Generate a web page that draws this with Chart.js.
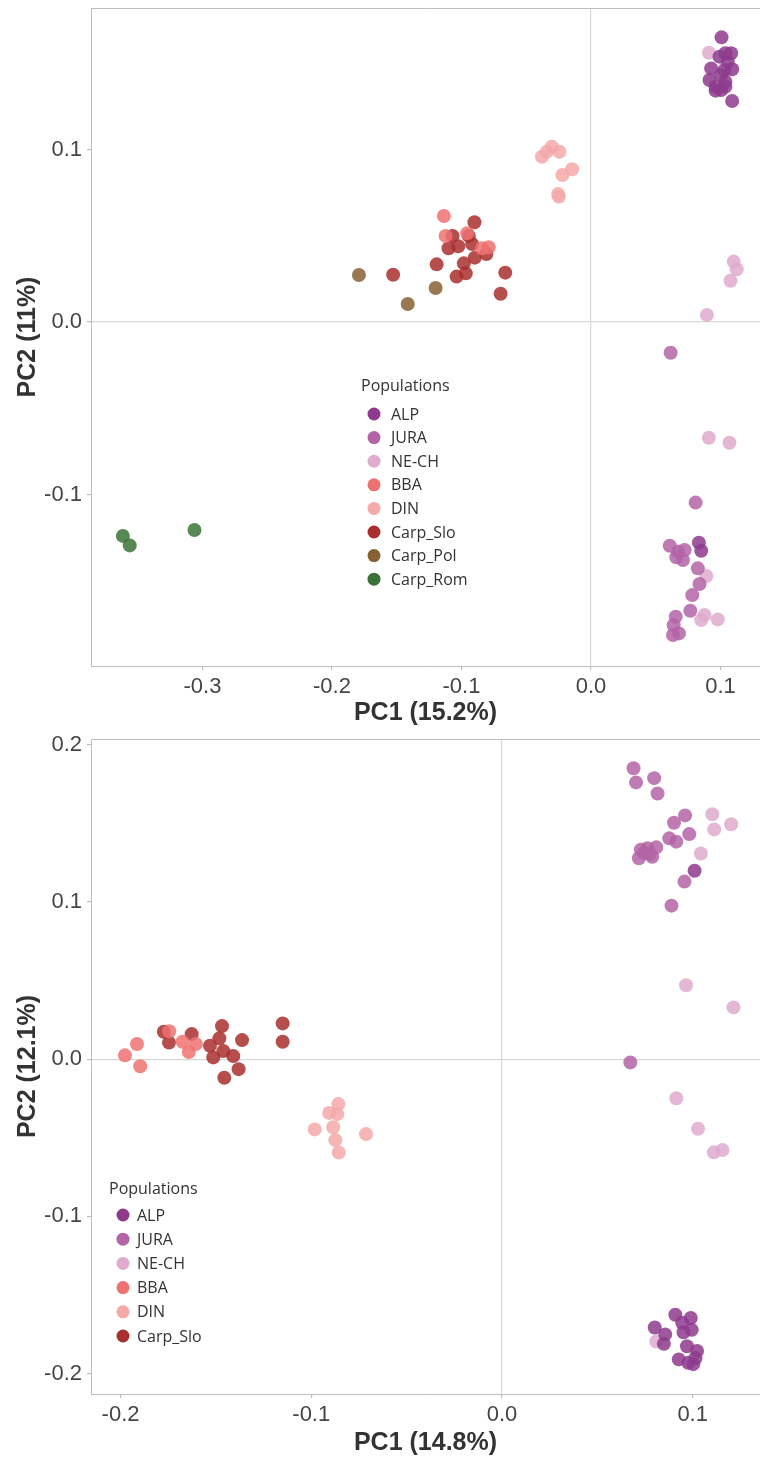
<!DOCTYPE html>
<html>
<head>
<meta charset="utf-8">
<title>PCA of populations</title>
<script src="https://cdn.jsdelivr.net/npm/chart.js@4.4.1/dist/chart.umd.min.js"></script>
<style>
  html, body { margin: 0; padding: 0; background: #ffffff; }
  .panel { position: relative; width: 760px; }
  canvas { display: block; }
</style>
</head>
<body>
<div class="panel" style="height:728px"><canvas id="pcaTop" width="760" height="728"></canvas></div>
<div class="panel" style="height:732px"><canvas id="pcaBottom" width="760" height="732"></canvas></div>
<script>
// Populations and their colours
const populations = ['ALP', 'JURA', 'NE-CH', 'BBA', 'DIN', 'Carp_Slo', 'Carp_Pol', 'Carp_Rom'];
const popColors = ['#8e3b8d', '#b464a6', '#dfacce', '#ee7272', '#f5a9a9', '#a92f2f', '#876034', '#3a7337'];

// Axis ticks
const topXTicks = [-0.3, -0.2, -0.1, 0.0, 0.1];
const topYTicks = [-0.1, 0.0, 0.1];
const bottomXTicks = [-0.2, -0.1, 0.0, 0.1];
const bottomYTicks = [-0.2, -0.1, 0.0, 0.1, 0.2];

// Upper panel: PC1 (15.2%) vs PC2 (11%), [PC1, PC2] per individual
const topALP = [[0.1008,0.165],[0.1038,0.1558],[0.1082,0.1558],[0.0992,0.1538],[0.1056,0.1509],[0.0928,0.147],[0.1031,0.1461],[0.109,0.1465],[0.1005,0.1432],[0.0915,0.1403],[0.1038,0.1393],[0.0962,0.1364],[0.1038,0.1364],[0.0962,0.1341],[0.1005,0.1345],[0.109,0.1281],[0.0833,-0.1279],[0.0851,-0.1326]];
const topJURA = [[0.0615,-0.0178],[0.0808,-0.1047],[0.0608,-0.1297],[0.0672,-0.1331],[0.0723,-0.1322],[0.0659,-0.1364],[0.071,-0.138],[0.0825,-0.1428],[0.0838,-0.1519],[0.0782,-0.1583],[0.0767,-0.1674],[0.0654,-0.1708],[0.0638,-0.1757],[0.0633,-0.1814],[0.0679,-0.1805]];
const topNECH = [[0.091,0.1561],[0.1102,0.035],[0.1125,0.0306],[0.1077,0.0239],[0.0895,0.0041],[0.091,-0.0671],[0.1069,-0.07],[0.089,-0.1472],[0.0877,-0.1699],[0.0979,-0.1724],[0.0851,-0.1728]];
const topBBA = [[-0.1136,0.0614],[-0.1123,0.0499],[-0.0956,0.0514],[-0.079,0.0433],[-0.0841,0.0427]];
const topDIN = [[-0.0379,0.0958],[-0.0341,0.0987],[-0.0302,0.1016],[-0.0244,0.0987],[-0.0221,0.0852],[-0.0146,0.0885],[-0.0248,0.0726],[-0.0254,0.0742]];
const topCarpSlo = [[-0.1528,0.0274],[-0.1192,0.0334],[-0.09,0.0578],[-0.1069,0.0499],[-0.0944,0.0499],[-0.11,0.0427],[-0.1025,0.0439],[-0.0918,0.0452],[-0.0897,0.0373],[-0.0808,0.0394],[-0.0982,0.034],[-0.1038,0.0263],[-0.0967,0.0282],[-0.0662,0.0286],[-0.0698,0.0164]];
const topCarpPol = [[-0.1792,0.0272],[-0.12,0.0197],[-0.1415,0.0104]];
const topCarpRom = [[-0.3615,-0.124],[-0.3562,-0.1295],[-0.3062,-0.1206]];

// Lower panel: PC1 (14.8%) vs PC2 (12.1%)
const botALP = [[0.101,0.1198],[0.0909,-0.1626],[0.099,-0.1647],[0.0801,-0.1707],[0.0856,-0.1751],[0.0849,-0.1811],[0.0952,-0.1737],[0.0995,-0.1722],[0.0945,-0.1677],[0.097,-0.1826],[0.1023,-0.1856],[0.0927,-0.191],[0.0977,-0.1931],[0.1003,-0.194],[0.1015,-0.1901]];
const botJURA = [[0.069,0.185],[0.0703,0.176],[0.0798,0.1787],[0.0816,0.1689],[0.0902,0.1503],[0.096,0.155],[0.0982,0.1431],[0.0877,0.1404],[0.0914,0.1383],[0.0728,0.1332],[0.0763,0.1341],[0.0809,0.1347],[0.0718,0.1278],[0.0788,0.1287],[0.0745,0.131],[0.0775,0.1305],[0.0957,0.1129],[0.0889,0.0976],[0.0673,-0.0021]];
const botNECH = [[0.1103,0.1557],[0.1202,0.1494],[0.1113,0.1461],[0.1043,0.1308],[0.0965,0.047],[0.1214,0.0329],[0.0914,-0.0249],[0.1028,-0.0443],[0.1111,-0.0593],[0.1156,-0.0578],[0.0809,-0.1796]];
const botBBA = [[-0.1977,0.0024],[-0.1914,0.0096],[-0.1897,-0.0045],[-0.1745,0.0177],[-0.1675,0.011],[-0.1605,0.0096],[-0.1642,0.0045]];
const botDIN = [[-0.0858,-0.0286],[-0.0906,-0.0342],[-0.0864,-0.035],[-0.0885,-0.0433],[-0.0982,-0.0447],[-0.0874,-0.0515],[-0.0856,-0.0594],[-0.0713,-0.0477]];
const botCarpSlo = [[-0.1773,0.0174],[-0.1746,0.0105],[-0.1627,0.0159],[-0.1468,0.021],[-0.1482,0.0132],[-0.1531,0.0085],[-0.1514,0.0011],[-0.1461,0.0051],[-0.1409,0.0019],[-0.1381,-0.0064],[-0.1456,-0.0119],[-0.1363,0.0121],[-0.115,0.0227],[-0.115,0.011]];

const topGroups = [topALP, topJURA, topNECH, topBBA, topDIN, topCarpSlo, topCarpPol, topCarpRom];
const bottomGroups = [botALP, botJURA, botNECH, botBBA, botDIN, botCarpSlo];

function withAlpha(hex, a) {
  const n = parseInt(hex.slice(1), 16);
  return `rgba(${(n >> 16) & 255},${(n >> 8) & 255},${n & 255},${a})`;
}

function buildDatasets(groups) {
  return groups.map((pts, i) => ({
    label: populations[i],
    legendColor: popColors[i],
    data: pts.map(p => ({ x: p[0], y: p[1] })),
    backgroundColor: withAlpha(popColors[i], 0.85),
    borderWidth: 0,
    pointRadius: 7,
    pointHoverRadius: 7,
    pointStyle: 'circle'
  }));
}

// Top frame line of the panel (axes supply the left and bottom lines)
const frameTop = {
  id: 'frameTop',
  afterDraw(chart) {
    const a = chart.chartArea, ctx = chart.ctx;
    ctx.save();
    ctx.strokeStyle = '#c2bcbc';
    ctx.lineWidth = 1;
    ctx.beginPath();
    ctx.moveTo(a.left, a.top + 0.5);
    ctx.lineTo(a.right, a.top + 0.5);
    ctx.stroke();
    ctx.restore();
  }
};

// In-panel legend listing the populations of the panel
const popLegend = {
  id: 'popLegend',
  afterDraw(chart, args, o) {
    const ctx = chart.ctx;
    ctx.save();
    ctx.textBaseline = 'middle';
    ctx.textAlign = 'left';
    ctx.fillStyle = '#333333';
    ctx.font = '16px "Open Sans"';
    ctx.fillText(o.title, o.x, o.titleY);
    chart.data.datasets.forEach((ds, i) => {
      const y = o.rowY + i * o.step;
      ctx.beginPath();
      ctx.arc(o.dotX, y, 6.5, 0, Math.PI * 2);
      ctx.fillStyle = ds.legendColor;
      ctx.fill();
      ctx.fillStyle = '#333333';
      ctx.font = '16px "Open Sans"';
      ctx.fillText(ds.label, o.textX, y + 1);
    });
    ctx.restore();
  }
};

function zeroGrid(ctx) {
  return ctx.tick && Math.abs(ctx.tick.value) < 1e-9 ? '#dcd6d6' : 'rgba(0,0,0,0)';
}

function makeChart(id, cfg) {
  const tickFont = { family: '"Liberation Sans", Arial, sans-serif', size: 22 };
  const titleFont = { family: '"Liberation Sans", Arial, sans-serif', size: 25, weight: 'bold' };
  return new Chart(document.getElementById(id), {
    type: 'scatter',
    data: { datasets: buildDatasets(cfg.groups) },
    options: {
      responsive: false,
      animation: false,
      events: [],
      layout: { autoPadding: false, padding: { top: cfg.padTop, left: 0, right: 0, bottom: 0 } },
      plugins: {
        legend: { display: false },
        tooltip: { enabled: false },
        popLegend: cfg.legend
      },
      scales: {
        x: {
          type: 'linear',
          min: cfg.xMin, max: cfg.xMax,
          afterBuildTicks: s => { s.ticks = cfg.xTicks.map(v => ({ value: v })); },
          afterFit: s => { s.height = cfg.xAxisHeight; s.paddingLeft = 0; s.paddingRight = 0; },
          ticks: { callback: v => Number(v).toFixed(1), font: tickFont, color: '#454545', padding: 4, maxRotation: 0, autoSkip: false },
          grid: { color: zeroGrid, lineWidth: 1.2, tickColor: '#c2bcbc', tickLength: 4 },
          border: { display: true, color: '#c2bcbc', width: 1 },
          title: { display: true, text: cfg.xTitle, font: titleFont, color: '#333333', padding: { top: 0, bottom: cfg.xTitlePad } }
        },
        y: {
          type: 'linear',
          min: cfg.yMin, max: cfg.yMax,
          afterBuildTicks: s => { s.ticks = cfg.yTicks.map(v => ({ value: v })); },
          afterFit: s => { s.width = 91; s.paddingTop = 0; s.paddingBottom = 0; },
          ticks: { callback: v => Number(v).toFixed(1), font: tickFont, color: '#454545', padding: 5, autoSkip: false },
          grid: { color: zeroGrid, lineWidth: 1.2, tickColor: '#c2bcbc', tickLength: 4 },
          border: { display: true, color: '#c2bcbc', width: 1 },
          title: { display: true, text: cfg.yTitle, font: titleFont, color: '#333333', padding: { top: 13, bottom: 0 } }
        }
      }
    },
    plugins: [frameTop, popLegend]
  });
}

makeChart('pcaTop', {
  groups: topGroups,
  xMin: -0.3861, xMax: 0.1305, yMin: -0.1994, yMax: 0.182,
  xTicks: topXTicks, yTicks: topYTicks,
  xTitle: 'PC1 (15.2%)', yTitle: 'PC2 (11%)',
  padTop: 8, xAxisHeight: 62, xTitlePad: 0,
  legend: { title: 'Populations', x: 361, titleY: 386, dotX: 374, textX: 391, rowY: 414, step: 23.6 }
});

makeChart('pcaBottom', {
  groups: bottomGroups,
  xMin: -0.2155, xMax: 0.1353, yMin: -0.213, yMax: 0.2036,
  xTicks: bottomXTicks, yTicks: bottomYTicks,
  xTitle: 'PC1 (14.8%)', yTitle: 'PC2 (12.1%)',
  padTop: 11, xAxisHeight: 66, xTitlePad: 2,
  legend: { title: 'Populations', x: 109, titleY: 461, dotX: 123, textX: 137, rowY: 487, step: 24.2 }
});
</script>
</body>
</html>
